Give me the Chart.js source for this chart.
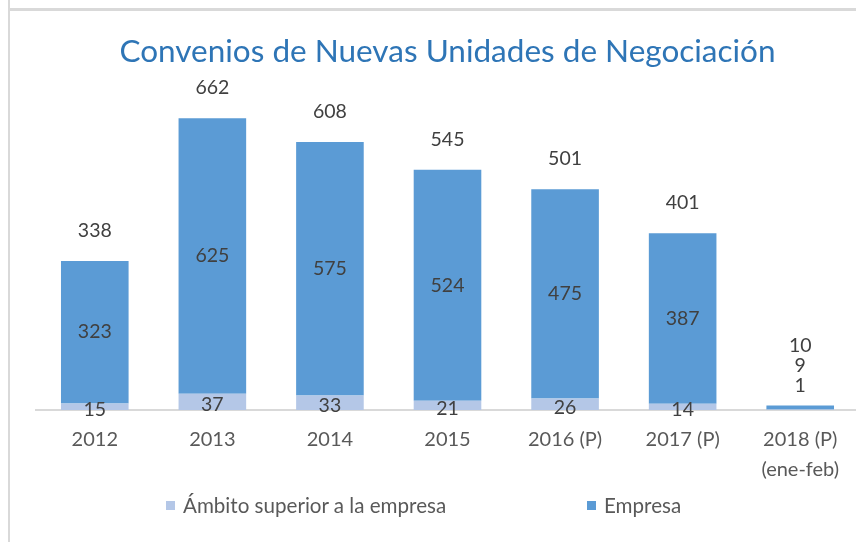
<!DOCTYPE html>
<html>
<head>
<meta charset="utf-8">
<script src="https://cdn.jsdelivr.net/npm/chart.js@4"></script>
<style>
  html, body { margin: 0; padding: 0; background: #fff; overflow: hidden; }
  body { width: 856px; height: 542px; position: relative; font-family: Lato, sans-serif; }
  #wrap { position: absolute; left: 0; top: 0; width: 862px; height: 542px; }
  .frameLeft { position: absolute; left: 8px; top: 0; width: 2px; height: 542px; background: #d9d9d9; }
  .frameTop { position: absolute; left: 8px; top: 8px; width: 848px; height: 3px; background: #d9d9d9; }
  #legend { position: absolute; top: 492px; left: 0; width: 856px; height: 26px; }
  .item { position: absolute; top: 0; display: flex; align-items: center; height: 26px; font-size: 20.6px; color: #595959; }
  .box { width: 9px; height: 9px; margin-right: 8px; }
</style>
</head>
<body>
<div id="wrap"><canvas id="chart" width="862" height="542"></canvas></div>
<div class="frameLeft"></div>
<div class="frameTop"></div>
<div id="legend"></div>
<script>
// Categories and series
const categories = ["2012", "2013", "2014", "2015", "2016 (P)", "2017 (P)", ["2018 (P)", "(ene-feb)"]];
const ambitoSuperior = [15, 37, 33, 21, 26, 14, 1];
const empresa = [323, 625, 575, 524, 475, 387, 9];
const totals = [338, 662, 608, 545, 501, 401, 10];

const seriesNames = ["Ámbito superior a la empresa", "Empresa"];
const seriesColors = ["#b4c7e7", "#5b9bd5"];

// Draw value labels inside the segments and totals above
const valueLabels = {
  id: "valueLabels",
  afterDatasetsDraw(chart) {
    const ctx = chart.ctx;
    const m0 = chart.getDatasetMeta(0);
    const m1 = chart.getDatasetMeta(1);
    ctx.save();
    ctx.font = "19.5px Lato";
    ctx.fillStyle = "#404040";
    ctx.textAlign = "center";
    ctx.textBaseline = "middle";
    m1.data.forEach((bar, i) => {
      const low = m0.data[i];
      const x = bar.x;
      const top = bar.y;
      const base = low.base;
      if (base - top < 10) {
        // tiny bar: stack labels above it
        ctx.fillText(ambitoSuperior[i], x, top - 20);
        ctx.fillText(empresa[i], x, top - 40);
        ctx.fillText(totals[i], x, top - 60);
      } else {
        ctx.fillText(ambitoSuperior[i], x, (low.y + low.base) / 2 + 3);
        ctx.fillText(empresa[i], x, (bar.y + bar.base) / 2);
        ctx.fillText(totals[i], x, top - 30);
      }
    });
    ctx.restore();
  }
};

new Chart(document.getElementById("chart"), {
  type: "bar",
  data: {
    labels: categories,
    datasets: [
      { label: seriesNames[0], data: ambitoSuperior, backgroundColor: seriesColors[0] },
      { label: seriesNames[1], data: empresa, backgroundColor: seriesColors[1] }
    ]
  },
  options: {
    responsive: false,
    animation: false,
    layout: { padding: { left: 36, right: 3, top: 0, bottom: 42 } },
    datasets: { bar: { categoryPercentage: 1, barPercentage: 0.575 } },
    plugins: {
      legend: { display: false },
      tooltip: { enabled: false },
      title: {
        display: true,
        text: "Convenios de Nuevas Unidades de Negociación",
        color: "#2e75b6",
        font: { family: "Lato", size: 31.5, weight: "normal", lineHeight: 1.2 },
        padding: { top: 33, bottom: 30.6 }
      }
    },
    scales: {
      x: {
        stacked: true,
        grid: { display: false, drawTicks: false },
        border: { display: true, color: "#d9d9d9", width: 2 },
        ticks: { color: "#595959", font: { family: "Lato", size: 20, lineHeight: 1.5 }, padding: 15, maxRotation: 0, autoSkip: false }
      },
      y: {
        stacked: true,
        display: false,
        min: 0,
        max: 700
      }
    }
  },
  plugins: [valueLabels]
});

// HTML legend
const legend = document.getElementById("legend");
const legendX = [166, 587];
seriesNames.forEach((name, i) => {
  const item = document.createElement("div");
  item.className = "item";
  item.style.left = legendX[i] + "px";
  item.innerHTML = '<span class="box" style="background:' + seriesColors[i] + '"></span><span>' + name + '</span>';
  legend.appendChild(item);
});
</script>
</body>
</html>
